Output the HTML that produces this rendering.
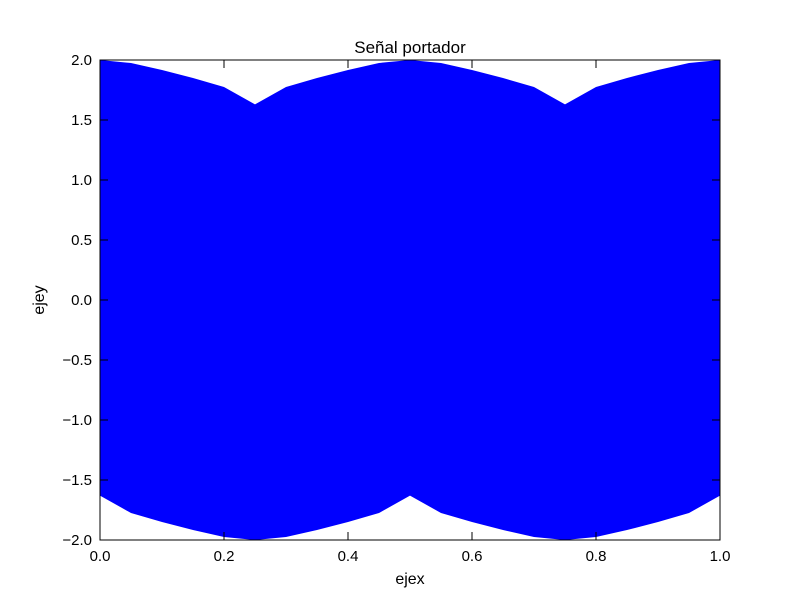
<!DOCTYPE html>
<html><head><meta charset="utf-8"><style>
body{margin:0;background:#fff;}
svg text{font-family:"Liberation Sans","DejaVu Sans",sans-serif;}
</style></head><body>
<svg id="chart" width="800" height="600" xmlns="http://www.w3.org/2000/svg">
<rect width="800" height="600" fill="#fff"/>
<g id="plot"></g>
<g id="axes"></g>
<text x="410" y="53" text-anchor="middle" font-size="17">Señal portador</text>
<text x="410" y="584" text-anchor="middle" font-size="16">ejex</text>
<text x="0" y="0" transform="translate(44,300) rotate(-90)" text-anchor="middle" font-size="16">ejey</text>
</svg>
<script>
const xs = [0,0.05,0.1,0.15,0.2,0.25,0.3,0.35,0.4,0.45,0.5,0.55,0.6,0.65,0.7,0.75,0.8,0.85,0.9,0.95,1.0];
const upperEnv = [2.0,1.975,1.917,1.85,1.775,1.63,1.775,1.85,1.917,1.975,2.0,1.975,1.917,1.85,1.775,1.63,1.775,1.85,1.917,1.975,2.0];
const lowerEnv = [-1.63,-1.775,-1.85,-1.917,-1.975,-2.0,-1.975,-1.917,-1.85,-1.775,-1.63,-1.775,-1.85,-1.917,-1.975,-2.0,-1.975,-1.917,-1.85,-1.775,-1.63];
const xTicks = [0,0.2,0.4,0.6,0.8,1.0];
const xTickLabels = ["0.0","0.2","0.4","0.6","0.8","1.0"];
const yTicks = [-2,-1.5,-1,-0.5,0,0.5,1,1.5,2];
const yTickLabels = ["\u22122.0","\u22121.5","\u22121.0","\u22120.5","0.0","0.5","1.0","1.5","2.0"];
const L=100,R=720,T=60,B=540;
const sx = v => L + (v-0)/(1-0)*(R-L);
const sy = v => B - (v+2)/4*(B-T);
const NS="http://www.w3.org/2000/svg";
const plot=document.getElementById('plot'), axes=document.getElementById('axes');
let pts=[];
for(let i=0;i<xs.length;i++) pts.push(sx(xs[i])+','+sy(upperEnv[i]));
for(let i=xs.length-1;i>=0;i--) pts.push(sx(xs[i])+','+sy(lowerEnv[i]));
const poly=document.createElementNS(NS,'polygon');
poly.setAttribute('points',pts.join(' '));
poly.setAttribute('fill','#0000ff');


plot.appendChild(poly);
const frame=document.createElementNS(NS,'rect');
frame.setAttribute('x',L);frame.setAttribute('y',T);frame.setAttribute('width',R-L);frame.setAttribute('height',B-T);
frame.setAttribute('fill','none');frame.setAttribute('stroke','#000');frame.setAttribute('stroke-width','1');


axes.appendChild(frame);
function line(x1,y1,x2,y2){const l=document.createElementNS(NS,'line');l.setAttribute('x1',x1);l.setAttribute('y1',y1);l.setAttribute('x2',x2);l.setAttribute('y2',y2);l.setAttribute('stroke','#000');axes.appendChild(l);return l;}
xTicks.forEach((v,i)=>{const x=sx(v);
 let a=line(x,B,x,B-8);
 let b=line(x,T,x,T+8);
 const t=document.createElementNS(NS,'text');t.setAttribute('x',x);t.setAttribute('y',B+21);t.setAttribute('text-anchor','middle');t.setAttribute('font-size','15');t.textContent=xTickLabels[i];
 
 
 axes.appendChild(t);});
yTicks.forEach((v,i)=>{const y=sy(v);
 let a=line(L,y,L+8,y);
 let b=line(R,y,R-8,y);
 const t=document.createElementNS(NS,'text');t.setAttribute('x',L-8);t.setAttribute('y',y+5);t.setAttribute('text-anchor','end');t.setAttribute('font-size','15');t.textContent=yTickLabels[i];
 
 
 axes.appendChild(t);});
</script>
</body></html>
